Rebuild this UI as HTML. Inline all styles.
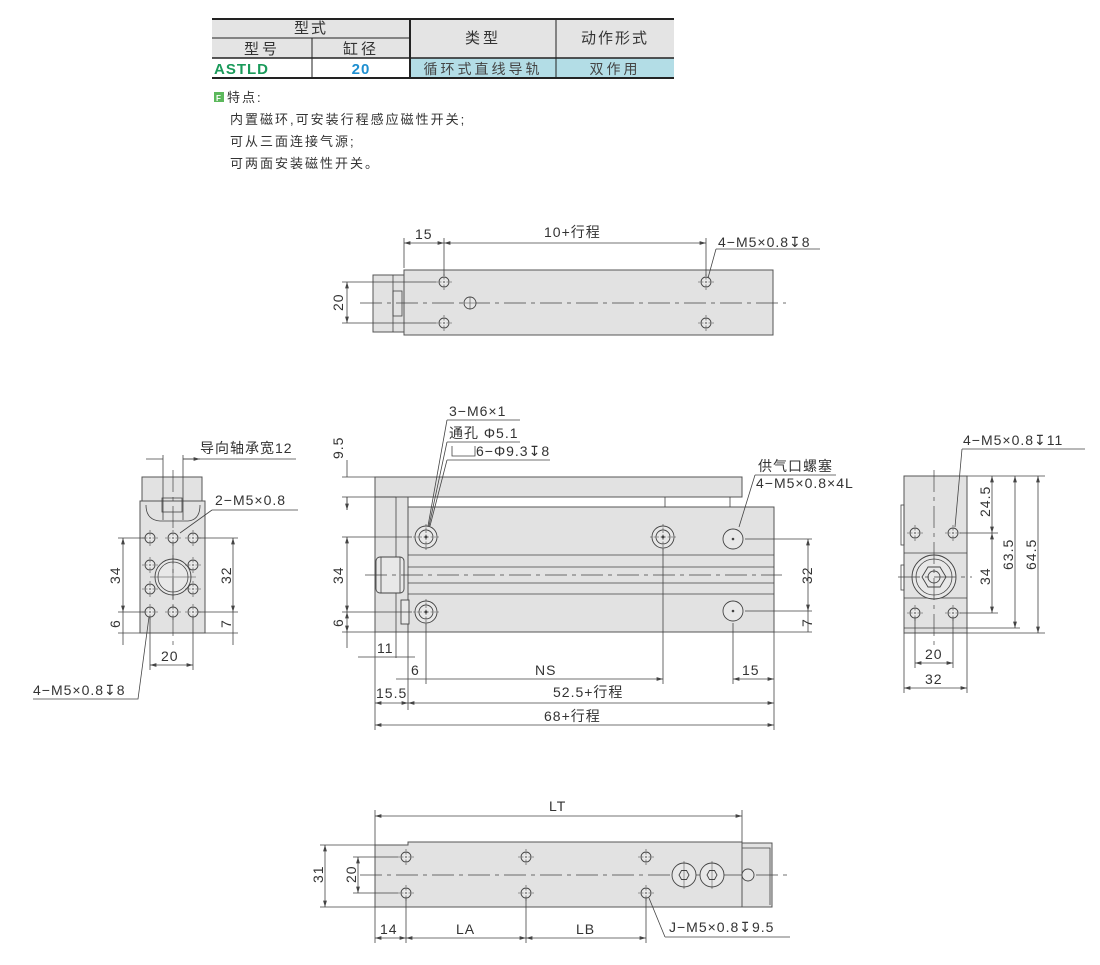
<!DOCTYPE html>
<html><head><meta charset="utf-8"><style>
body{margin:0;background:#fff;width:1100px;height:960px;overflow:hidden}
svg{font-family:"Liberation Sans","Noto Sans CJK SC",sans-serif}
.b{fill:#e2e2e2;stroke:#555;stroke-width:1}
.l{stroke:#444;stroke-width:0.8;fill:none}
.c{stroke:#444;stroke-width:0.7;fill:none;stroke-dasharray:22 5 4 5}
.h{fill:#e8e8e8;stroke:#444;stroke-width:0.9}
text{fill:#333;font-size:14px;letter-spacing:1px}
.f{font-size:13px;letter-spacing:2px}
</style></head><body>
<svg width="1100" height="960" viewBox="0 0 1100 960" xmlns="http://www.w3.org/2000/svg">
<defs>
<marker id="a" viewBox="0 0 10 6" refX="10" refY="3" markerWidth="8" markerHeight="5" orient="auto-start-reverse"><path d="M0,0L10,3L0,6z" fill="#444"/></marker>
<g id="hs"><circle r="5" class="h"/><path d="M-8,0H8M0,-8V8" stroke="#444" stroke-width="0.6" stroke-dasharray="2 1.5"/></g>
<g id="hb"><circle r="11" class="h"/><circle r="7" class="h"/><circle r="1.5" fill="#444"/><path d="M-13,0H13M0,-13V13" stroke="#444" stroke-width="0.6" stroke-dasharray="2 1.5"/></g>
</defs>
<!-- table -->
<rect x="212" y="19" width="462" height="39" fill="#e4e4e4"/>
<rect x="410" y="58" width="264" height="20" fill="#b3dde6"/>
<g stroke="#222" fill="none">
<path d="M212,19H674" stroke-width="2"/><path d="M212,78H674" stroke-width="2"/>
<path d="M212,58H674" stroke-width="1.5"/><path d="M212,38H410" stroke-width="1"/>
<path d="M312,38V78M556,19V78" stroke-width="1"/><path d="M410,19V78" stroke-width="2"/>
</g>
<g text-anchor="middle">
<text x="311" y="33" style="font-size:15px;letter-spacing:2px">型式</text><text x="262" y="54" style="font-size:15px;letter-spacing:3px">型号</text><text x="361" y="54" style="font-size:15px;letter-spacing:3px">缸径</text>
<text x="483" y="43" style="font-size:15px;letter-spacing:3px">类型</text><text x="615" y="43" style="font-size:15px;letter-spacing:2px">动作形式</text>
<text x="483" y="74" style="fill:#444;letter-spacing:3px">循环式直线导轨</text><text x="615" y="74" style="fill:#444;letter-spacing:3px">双作用</text>
<text x="361" y="74" style="fill:#1e8fd0;font-weight:bold;font-size:15px">20</text>
</g>
<text x="214" y="74" style="fill:#1a9a5a;font-weight:bold;font-size:15px">ASTLD</text>
<rect x="214" y="92" width="10" height="10" fill="#5cb85c"/><text x="216" y="101" style="fill:#fff;font-size:8px;font-weight:bold;letter-spacing:0">F</text>
<text x="227" y="102" class="f">特点:</text>
<text x="230" y="124" class="f">内置磁环,可安装行程感应磁性开关;</text>
<text x="230" y="146" class="f">可从三面连接气源;</text>
<text x="230" y="168" class="f">可两面安装磁性开关。</text>

<!-- TOP VIEW -->
<rect x="373" y="275" width="31" height="57" class="b"/><path d="M393,275V332" class="l"/>
<rect x="393" y="291" width="9" height="25" class="l"/>
<rect x="404" y="270" width="369" height="65" class="b"/>
<path d="M360,303H786" class="c"/>
<circle cx="470" cy="303" r="6" class="h"/><path d="M464,303H476M470,297V309" stroke="#444" stroke-width="0.6"/>
<use href="#hs" x="444" y="282"/><use href="#hs" x="444" y="323"/><use href="#hs" x="706" y="282"/><use href="#hs" x="706" y="323"/>
<path d="M404,268V238M444,276V238M706,276V238" class="l"/>
<path d="M404,243H444" class="l" marker-start="url(#a)" marker-end="url(#a)"/>
<path d="M444,243H706" class="l" marker-start="url(#a)" marker-end="url(#a)"/>
<text x="415" y="239">15</text><text x="544" y="237">10+行程</text>
<text x="718" y="247">4−M5×0.8↧8</text><path d="M716,249H820M716,249L708,278" class="l"/>
<path d="M342,282H436M342,323H436" class="l"/><path d="M347,282V323" class="l" marker-start="url(#a)" marker-end="url(#a)"/>
<text transform="translate(343,311) rotate(-90)">20</text>

<!-- FRONT VIEW -->
<rect x="375" y="477" width="367" height="20" class="b"/>
<rect x="375" y="497" width="33" height="135" class="b"/>
<path d="M396,497V658" class="l"/>
<rect x="408" y="507" width="366" height="125" class="b"/>
<path d="M408,555H774M408,567H774M408,583H774M408,594H774" class="l"/>
<path d="M665,497V507M730,497V507" class="l"/>
<rect x="376" y="557" width="28" height="36" rx="4" class="h"/><path d="M381,557V593M400,557V593" class="l"/>
<rect x="401" y="600" width="8" height="24" class="h"/>
<path d="M365,575H782" class="c"/>
<use href="#hb" x="426" y="537"/><use href="#hb" x="663" y="537"/><use href="#hb" x="426" y="612"/>
<use href="#hs" x="733" y="539"/><use href="#hs" x="733" y="611"/>
<circle cx="733" cy="539" r="10" class="h"/><circle cx="733" cy="539" r="1.3" fill="#444"/>
<circle cx="733" cy="611" r="10" class="h"/><circle cx="733" cy="611" r="1.3" fill="#444"/>
<text x="449" y="416">3−M6×1</text><text x="449" y="438">通孔 Φ5.1</text>
<path d="M452,446V456H475V446" class="l"/><text x="476" y="456">6−Φ9.3↧8</text>
<path d="M447,420H520M447,442H520M447,460H550" class="l"/>
<path d="M447,420L428,526M447,442L429,526M447,460L430,526" class="l"/>
<text x="758" y="471">供气口螺塞</text><text x="756" y="488">4−M5×0.8×4L</text>
<path d="M755,475H836M755,475L739,527" class="l"/>
<path d="M342,477H375M342,497H396M342,537H412M342,612H412M342,632H375" class="l"/>
<path d="M347,460V477M347,497V510" class="l" marker-end="url(#a)"/><path d="M347,510V497" class="l"/>
<path d="M347,537V612" class="l" marker-start="url(#a)" marker-end="url(#a)"/>
<path d="M347,612V632" class="l" marker-start="url(#a)" marker-end="url(#a)"/><path d="M347,632V648" class="l"/>
<text transform="translate(343,459) rotate(-90)">9.5</text>
<text transform="translate(343,584) rotate(-90)">34</text>
<text transform="translate(343,627) rotate(-90)">6</text>
<path d="M745,539H812M745,611H812M774,632H812" class="l"/>
<path d="M808,539V611" class="l" marker-start="url(#a)" marker-end="url(#a)"/>
<path d="M808,611V632" class="l"/>
<text transform="translate(812,584) rotate(-90)">32</text>
<text transform="translate(812,627) rotate(-90)">7</text>
<path d="M375,632V730M408,632V710M426,624V684M663,549V684M733,623V684M774,632V730" class="l"/>
<path d="M358,657H396M396,657H415" class="l"/><text x="377" y="653">11</text>
<path d="M396,679H426M426,679H663" class="l" marker-end="url(#a)"/><text x="411" y="675">6</text><text x="535" y="675">NS</text>
<path d="M733,679H774" class="l" marker-start="url(#a)" marker-end="url(#a)"/><text x="742" y="675">15</text>
<path d="M375,703H408" class="l" marker-start="url(#a)" marker-end="url(#a)"/><path d="M408,703H774" class="l" marker-start="url(#a)" marker-end="url(#a)"/>
<text x="376" y="698">15.5</text><text x="553" y="697">52.5+行程</text>
<path d="M375,725H774" class="l" marker-start="url(#a)" marker-end="url(#a)"/><text x="544" y="721">68+行程</text>

<!-- LEFT VIEW -->
<rect x="142" y="477" width="60" height="24" class="b"/>
<rect x="140" y="501" width="65" height="132" class="b"/>
<path d="M146,505Q146,520 160,521H188Q200,520 200,505" class="l"/><rect x="162" y="498" width="20" height="14" class="l"/>
<circle cx="173" cy="577" r="18" class="h"/><circle cx="173" cy="577" r="15" class="l"/>
<path d="M150,577H196M173,555V599" stroke="#444" stroke-width="0.6"/>
<path d="M173,470V645" class="c"/>
<use href="#hs" x="150" y="538"/><use href="#hs" x="173" y="538"/><use href="#hs" x="193" y="538"/>
<use href="#hs" x="150" y="612"/><use href="#hs" x="173" y="612"/><use href="#hs" x="193" y="612"/>
<use href="#hs" x="150" y="565"/><use href="#hs" x="193" y="565"/><use href="#hs" x="150" y="589"/><use href="#hs" x="193" y="589"/>
<path d="M163,455V520M183,455V520" class="l"/>
<path d="M146,459H163M183,459H200" class="l" marker-end="url(#a)"/><path d="M183,459H296" class="l"/>
<text x="200" y="453">导向轴承宽12</text>
<text x="215" y="505">2−M5×0.8</text><path d="M212,510H298M212,510L180,533" class="l"/>
<path d="M118,538H145M118,612H145M118,633H140" class="l"/>
<path d="M123,538V612" class="l" marker-start="url(#a)" marker-end="url(#a)"/><path d="M123,612V633" class="l"/><path d="M123,633V645" class="l"/>
<text transform="translate(120,584) rotate(-90)">34</text><text transform="translate(120,628) rotate(-90)">6</text>
<path d="M198,538H238M198,612H238M205,633H238" class="l"/>
<path d="M233,538V612" class="l" marker-start="url(#a)" marker-end="url(#a)"/><path d="M233,612V645" class="l"/>
<text transform="translate(231,584) rotate(-90)">32</text><text transform="translate(231,628) rotate(-90)">7</text>
<path d="M150,617V670M193,617V670" class="l"/><path d="M150,665H193" class="l" marker-start="url(#a)" marker-end="url(#a)"/><text x="161" y="661">20</text>
<text x="33" y="695">4−M5×0.8↧8</text><path d="M33,699H138L149,617" class="l"/>

<!-- RIGHT VIEW -->
<rect x="904" y="476" width="63" height="157" class="b"/>
<path d="M904,553H967M904,598H967M904,628H967" class="l"/>
<rect x="901" y="505" width="3" height="40" class="l"/><rect x="901" y="565" width="3" height="25" class="l"/>
<circle cx="934" cy="577" r="22" class="h"/><circle cx="934" cy="577" r="18" class="l"/>
<polygon points="946,577 940,587 928,587 922,577 928,567 940,567" class="h"/><circle cx="934" cy="577" r="6" class="h"/>
<path d="M898,577H972M934,470V645" class="c"/>
<use href="#hs" x="915" y="533"/><use href="#hs" x="953" y="533"/><use href="#hs" x="915" y="613"/><use href="#hs" x="953" y="613"/>
<text x="963" y="445">4−M5×0.8↧11</text><path d="M962,449H1085M962,449L955,527" class="l"/>
<path d="M967,476H1045M960,533H998M960,613H998M967,628H1020M967,633H1045" class="l"/>
<path d="M992,476V533" class="l" marker-start="url(#a)" marker-end="url(#a)"/><path d="M992,533V613" class="l" marker-start="url(#a)" marker-end="url(#a)"/>
<path d="M1015,476V628" class="l" marker-start="url(#a)" marker-end="url(#a)"/><path d="M1038,476V633" class="l" marker-start="url(#a)" marker-end="url(#a)"/>
<text transform="translate(990,517) rotate(-90)">24.5</text><text transform="translate(990,585) rotate(-90)">34</text>
<text transform="translate(1013,570) rotate(-90)">63.5</text><text transform="translate(1036,570) rotate(-90)">64.5</text>
<path d="M904,633V693M967,633V693M915,618V668M953,618V668" class="l"/>
<path d="M915,663H953" class="l" marker-start="url(#a)" marker-end="url(#a)"/><text x="925" y="659">20</text>
<path d="M904,688H967" class="l" marker-start="url(#a)" marker-end="url(#a)"/><text x="925" y="684">32</text>

<!-- BOTTOM VIEW -->
<rect x="742" y="843" width="30" height="64" class="b"/><path d="M742,848H770V905" class="l"/>
<path d="M375,845H408V842H742V907H375Z" class="b"/>
<path d="M360,875H790" class="c"/>
<use href="#hs" x="406" y="857"/><use href="#hs" x="526" y="857"/><use href="#hs" x="646" y="857"/>
<use href="#hs" x="406" y="893"/><use href="#hs" x="526" y="893"/><use href="#hs" x="646" y="893"/>
<circle cx="684" cy="875" r="12" class="h"/><circle cx="712" cy="875" r="12" class="h"/>
<polygon points="689,875 686.5,879.5 681.5,879.5 679,875 681.5,870.5 686.5,870.5" class="h"/>
<polygon points="717,875 714.5,879.5 709.5,879.5 707,875 709.5,870.5 714.5,870.5" class="h"/>
<path d="M684,861V889M712,861V889" stroke="#444" stroke-width="0.5"/>
<circle cx="748" cy="875" r="6" class="h"/>
<path d="M375,845V810M742,842V810" class="l"/>
<path d="M375,816H742" class="l" marker-start="url(#a)" marker-end="url(#a)"/><text x="549" y="811">LT</text>
<path d="M320,845H375M320,907H375M353,857H398M353,893H398" class="l"/>
<path d="M325,845V907" class="l" marker-start="url(#a)" marker-end="url(#a)"/><path d="M358,857V893" class="l" marker-start="url(#a)" marker-end="url(#a)"/>
<text transform="translate(323,883) rotate(-90)">31</text><text transform="translate(356,883) rotate(-90)">20</text>
<path d="M375,907V943M406,898V943M526,898V943M646,898V943" class="l"/>
<path d="M375,938H406" class="l" marker-start="url(#a)" marker-end="url(#a)"/><path d="M406,938H526" class="l" marker-start="url(#a)" marker-end="url(#a)"/><path d="M526,938H646" class="l" marker-start="url(#a)" marker-end="url(#a)"/>
<text x="380" y="934">14</text><text x="456" y="934">LA</text><text x="576" y="934">LB</text>
<text x="669" y="932">J−M5×0.8↧9.5</text><path d="M665,937H790M665,937L649,898" class="l"/>
</svg>
</body></html>
